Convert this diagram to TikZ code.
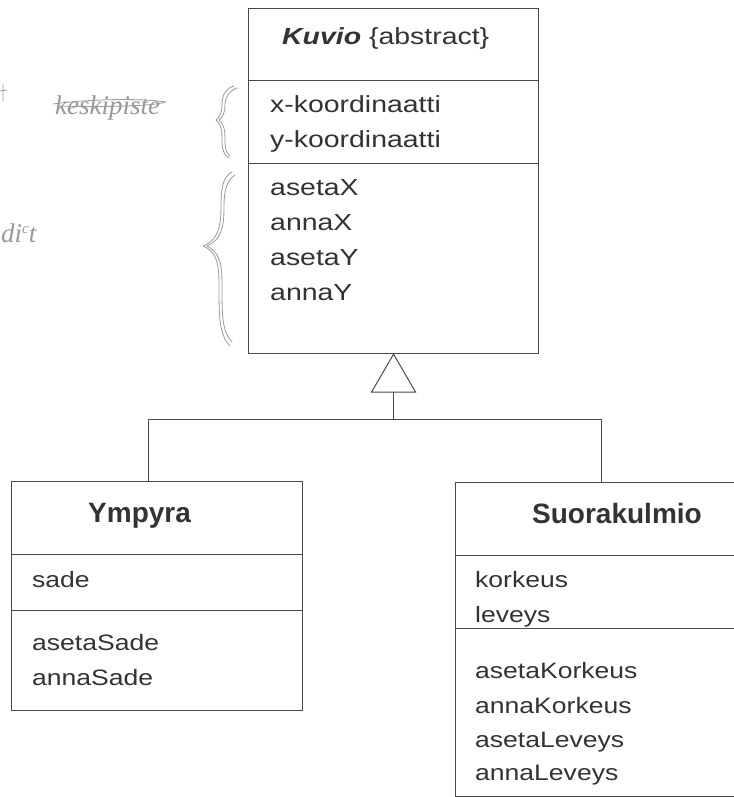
\documentclass[tikz,border=0pt]{standalone}
\usepackage{fontspec}
\setmainfont{Liberation Sans}
\newfontfamily\kfont{Liberation Sans}[FakeStretch=1.22]
\newfontfamily\bfont{Liberation Sans}[FakeStretch=1.19]
\newfontfamily\tfont{Liberation Sans}
\newfontfamily\handfont{Liberation Serif}
\definecolor{linecol}{HTML}{4A4A4A}
\definecolor{txtcol}{HTML}{333333}
\definecolor{handcol}{HTML}{9A9A9A}
\tikzset{
  umlbox/.style={draw=linecol, line width=1.1pt, rectangle, inner sep=0pt, anchor=north west},
  divline/.style={draw=linecol, line width=1pt},
  conn/.style={draw=linecol, line width=1pt},
  ktxt/.style={anchor=base west, inner sep=0pt, text=txtcol, font=\kfont\fontsize{23.3}{28}\selectfont},
  btxt/.style={anchor=base west, inner sep=0pt, text=txtcol, font=\bfont\fontsize{22.3}{27}\selectfont},
  ttxt/.style={anchor=base west, inner sep=0pt, text=txtcol, font=\tfont\bfseries\fontsize{28}{32}\selectfont},
  hand/.style={draw=handcol, line width=0.8pt, line cap=round, line join=round},
  handtxt/.style={anchor=base west, inner sep=0pt, text=handcol, font=\handfont\itshape\fontsize{27}{30}\selectfont},
}
\begin{document}
\begin{tikzpicture}[x=1pt,y=-1pt]
\useasboundingbox (0,0) rectangle (733,797);
\fill[white] (0,0) rectangle (733,797);

% ---- Kuvio
\node[umlbox, minimum width=290pt, minimum height=345pt] (kuvio) at (248,8) {};
\draw[divline] ([yshift=-73pt]kuvio.north west) -- ([yshift=-73pt]kuvio.north east);
\draw[divline] ([yshift=-155pt]kuvio.north west) -- ([yshift=-155pt]kuvio.north east);
\node[ktxt] (kname) at (282,45) {\textbf{\textit{Kuvio}} \{abstract\}};
\node[ktxt] (kx) at (270,113) {x-koordinaatti};
\node[ktxt] (ky) at (270,147) {y-koordinaatti};
\node[ktxt] (m1) at (270,195) {asetaX};
\node[ktxt] (m2) at (270,230) {annaX};
\node[ktxt] (m3) at (270,265) {asetaY};
\node[ktxt] (m4) at (270,300) {annaY};

% ---- Ympyra
\node[umlbox, minimum width=291pt, minimum height=229pt] (ympyra) at (11,481) {};
\draw[divline] ([yshift=-73pt]ympyra.north west) -- ([yshift=-73pt]ympyra.north east);
\draw[divline] ([yshift=-129pt]ympyra.north west) -- ([yshift=-129pt]ympyra.north east);
\node[ttxt] (yname) at (88,522) {Ympyra};
\node[btxt] (ya) at (32,587) {sade};
\node[btxt] (ym1) at (32,650) {asetaSade};
\node[btxt] (ym2) at (32,685) {annaSade};

% ---- Suorakulmio
\node[umlbox, minimum width=320pt, minimum height=314pt] (suora) at (455,482) {};
\draw[divline] ([yshift=-73pt]suora.north west) -- ([yshift=-73pt]suora.north east);
\draw[divline] ([yshift=-146pt]suora.north west) -- ([yshift=-146pt]suora.north east);
\node[ttxt] (sname) at (532,523) {Suorakulmio};
\node[btxt] (sa1) at (475,587) {korkeus};
\node[btxt] (sa2) at (475,622) {leveys};
\node[btxt] (sm1) at (475,678) {asetaKorkeus};
\node[btxt] (sm2) at (475,713) {annaKorkeus};
\node[btxt] (sm3) at (475,747) {asetaLeveys};
\node[btxt] (sm4) at (475,780) {annaLeveys};

% ---- generalisation
\coordinate (tribase) at ([yshift=-38pt]kuvio.south);
\coordinate (junc) at ([yshift=-27pt]tribase);
\draw[conn, fill=white, line join=miter] (kuvio.south) -- ([shift={(-22pt,-38pt)}]kuvio.south) -- ([shift={(22pt,-38pt)}]kuvio.south) -- cycle;
\draw[conn] (tribase) -- (junc);
\draw[conn] (junc) -| ([xshift=-9pt]ympyra.north);
\draw[conn] (junc) -| ([xshift=146pt]suora.north west);

% ---- pencil marks
\draw[hand] (3,84) -- (3,101) (0,91) -- (7,90);
\node[handtxt] (strk) at (55,114) {keskipiste};
\draw[hand] (53,104) .. controls (90,99) and (140,98) .. (166,102) .. controls (150,107) and (90,107) .. (58,106);
\node[handtxt] (dict) at (1,242) {di\raisebox{9pt}{\fontsize{15}{16}\selectfont c}t};
% small brace
\draw[hand] (234,86) .. controls (226,88) and (222,95) .. (222,104) .. controls (222,112) and (220,117) .. (216,120) .. controls (221,124) and (222,130) .. (222,140) .. controls (222,150) and (224,155) .. (229,158);
\draw[hand] (237,88) .. controls (229,91) and (225,97) .. (225,105) .. controls (225,112) and (223,117) .. (219,120) .. controls (224,124) and (225,130) .. (225,140) .. controls (225,148) and (226,153) .. (230,156);
% large brace
\draw[hand] (232,172) .. controls (224,176) and (221,186) .. (221,205) .. controls (221,228) and (218,240) .. (203,246) .. controls (216,251) and (219,262) .. (219,285) .. controls (219,315) and (219,335) .. (230,346);
\draw[hand] (235,175) .. controls (227,180) and (224,190) .. (224,207) .. controls (224,228) and (221,240) .. (207,246) .. controls (219,252) and (222,262) .. (222,285) .. controls (222,315) and (222,332) .. (232,342);
\end{tikzpicture}
\end{document}
